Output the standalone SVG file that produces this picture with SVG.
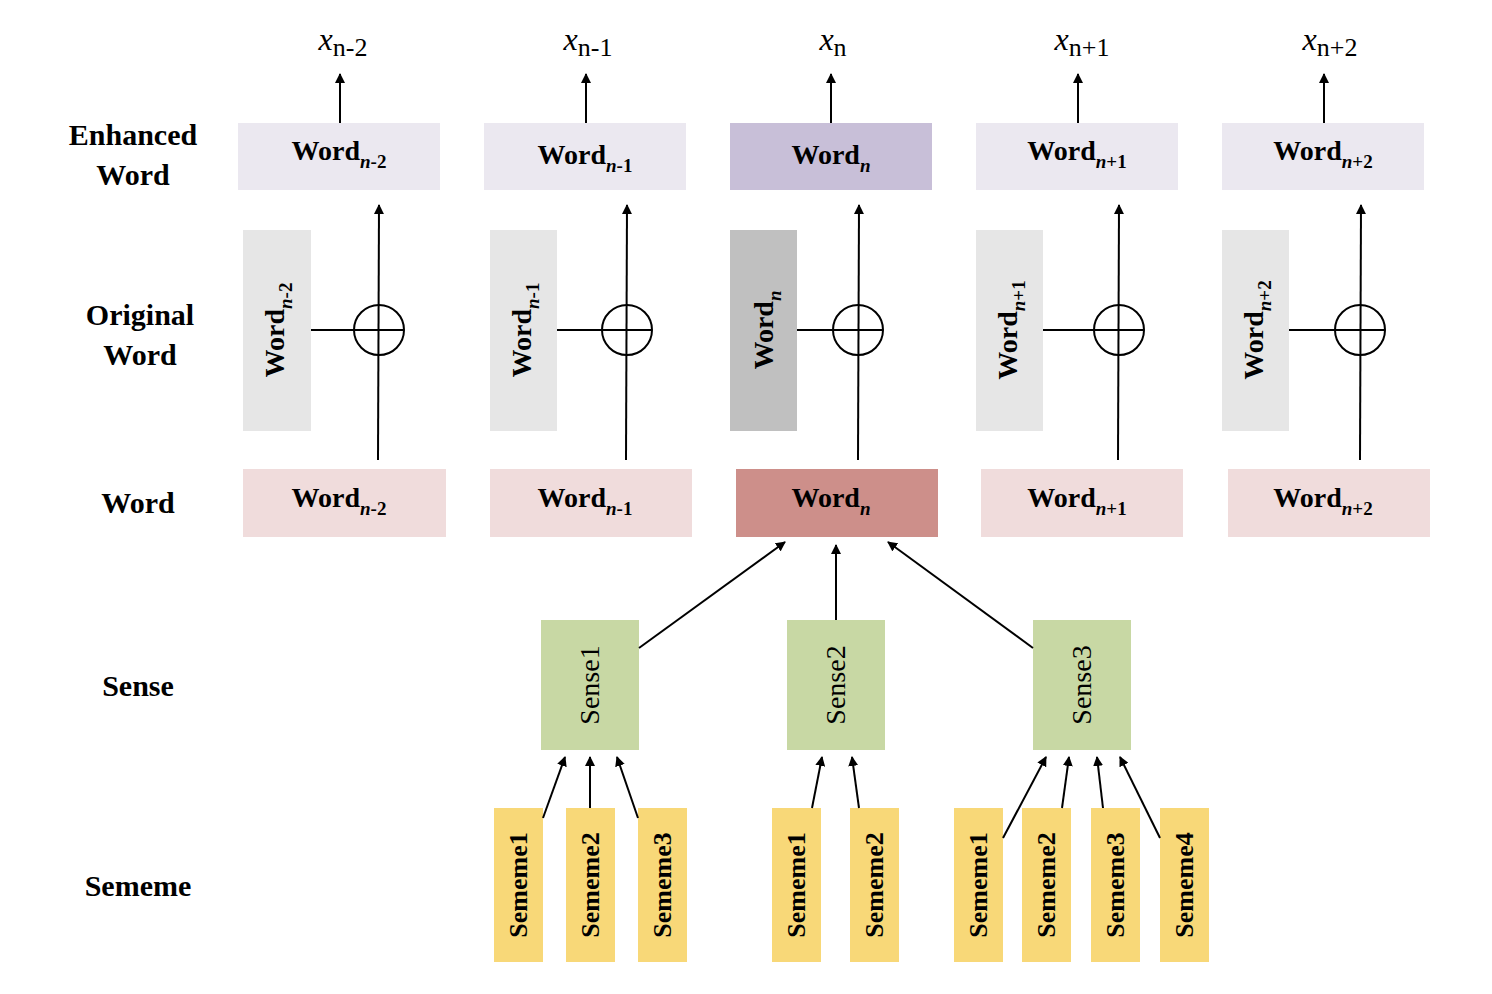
<svg xmlns="http://www.w3.org/2000/svg" width="1492" height="994" viewBox="0 0 1492 994">
<defs>
<marker id="ah" markerWidth="10" markerHeight="10" refX="9" refY="5" orient="auto" markerUnits="userSpaceOnUse" viewBox="0 0 10 10"><path d="M0,0 L10,5 L0,10 z" fill="#000"/></marker>
<style>
text{font-family:"Liberation Serif","Times New Roman",serif;fill:#000}
.lab{font-size:30px;font-weight:bold;text-anchor:middle}
.bt{font-size:28px;font-weight:bold;text-anchor:middle}
.sub{font-size:19px;font-style:italic}
.x{font-size:32px;text-anchor:middle}
.xs{font-size:26px;font-style:normal}
.st{font-size:28px;text-anchor:middle}
.sm{font-size:26px;font-weight:bold;text-anchor:middle}
line,path.c{stroke:#000;stroke-width:2;fill:none}
.ar{marker-end:url(#ah)}
.enh{fill:#ebe8f0}.org{fill:#e6e6e6}.wd{fill:#f0dcdc}.sen{fill:#c8d8a4}.sem{fill:#f8d878}
</style>
</defs>
<rect width="1492" height="994" fill="#fff"/>
<g id="labels">
<text class="lab" x="133" y="145">Enhanced</text><text class="lab" x="133" y="185">Word</text>
<text class="lab" x="140" y="325">Original</text><text class="lab" x="140" y="365">Word</text>
<text class="lab" x="138" y="513">Word</text>
<text class="lab" x="138" y="696">Sense</text>
<text class="lab" x="138" y="896">Sememe</text>
</g>
<g id="outputs">
<text class="x" x="343" y="50"><tspan font-style="italic">x</tspan><tspan class="xs" font-style="italic" dy="6">n</tspan><tspan class="xs" font-style="normal">-2</tspan></text>
<text class="x" x="588" y="50"><tspan font-style="italic">x</tspan><tspan class="xs" font-style="italic" dy="6">n</tspan><tspan class="xs">-1</tspan></text>
<text class="x" x="833" y="50"><tspan font-style="italic">x</tspan><tspan class="xs" font-style="italic" dy="6">n</tspan></text>
<text class="x" x="1082" y="50"><tspan font-style="italic">x</tspan><tspan class="xs" font-style="italic" dy="6">n</tspan><tspan class="xs">+1</tspan></text>
<text class="x" x="1330" y="50"><tspan font-style="italic">x</tspan><tspan class="xs" font-style="italic" dy="6">n</tspan><tspan class="xs">+2</tspan></text>
</g>
<g id="enhanced">
<rect class="enh" x="238" y="123" width="202" height="67"/><text class="bt" x="339" y="160">Word<tspan class="sub" dy="8">n</tspan><tspan font-size="19" dy="0">-2</tspan></text>
<rect class="enh" x="484" y="123" width="202" height="67"/><text class="bt" x="585" y="164">Word<tspan class="sub" dy="8">n</tspan><tspan font-size="19">-1</tspan></text>
<rect fill="#c8bfd8" x="730" y="123" width="202" height="67"/><text class="bt" x="831" y="164">Word<tspan class="sub" dy="8">n</tspan></text>
<rect class="enh" x="976" y="123" width="202" height="67"/><text class="bt" x="1077" y="160">Word<tspan class="sub" dy="8">n</tspan><tspan font-size="19">+1</tspan></text>
<rect class="enh" x="1222" y="123" width="202" height="67"/><text class="bt" x="1323" y="160">Word<tspan class="sub" dy="8">n</tspan><tspan font-size="19">+2</tspan></text>
</g>
<g id="original">
<rect class="org" x="243" y="230" width="68" height="201"/><text class="bt" transform="translate(284,330) rotate(-90)">Word<tspan class="sub" dy="8">n</tspan><tspan font-size="19">-2</tspan></text>
<rect class="org" x="490" y="230" width="67" height="201"/><text class="bt" transform="translate(531,330) rotate(-90)">Word<tspan class="sub" dy="8">n</tspan><tspan font-size="19">-1</tspan></text>
<rect fill="#c0c0c0" x="730" y="230" width="67" height="201"/><text class="bt" transform="translate(773,330) rotate(-90)">Word<tspan class="sub" dy="8">n</tspan></text>
<rect class="org" x="976" y="230" width="67" height="201"/><text class="bt" transform="translate(1017,330) rotate(-90)">Word<tspan class="sub" dy="8">n</tspan><tspan font-size="19">+1</tspan></text>
<rect class="org" x="1222" y="230" width="67" height="201"/><text class="bt" transform="translate(1263,330) rotate(-90)">Word<tspan class="sub" dy="8">n</tspan><tspan font-size="19">+2</tspan></text>
</g>
<g id="words">
<rect class="wd" x="243" y="469" width="203" height="68"/><text class="bt" x="339" y="507">Word<tspan class="sub" dy="8">n</tspan><tspan font-size="19">-2</tspan></text>
<rect class="wd" x="490" y="469" width="202" height="68"/><text class="bt" x="585" y="507">Word<tspan class="sub" dy="8">n</tspan><tspan font-size="19">-1</tspan></text>
<rect fill="#cd8f8a" x="736" y="469" width="202" height="68"/><text class="bt" x="831" y="507">Word<tspan class="sub" dy="8">n</tspan></text>
<rect class="wd" x="981" y="469" width="202" height="68"/><text class="bt" x="1077" y="507">Word<tspan class="sub" dy="8">n</tspan><tspan font-size="19">+1</tspan></text>
<rect class="wd" x="1228" y="469" width="202" height="68"/><text class="bt" x="1323" y="507">Word<tspan class="sub" dy="8">n</tspan><tspan font-size="19">+2</tspan></text>
</g>
<g id="senses">
<rect class="sen" x="541" y="620" width="98" height="130"/><text class="st" transform="translate(599,685) rotate(-90)">Sense1</text>
<rect class="sen" x="787" y="620" width="98" height="130"/><text class="st" transform="translate(845,685) rotate(-90)">Sense2</text>
<rect class="sen" x="1033" y="620" width="98" height="130"/><text class="st" transform="translate(1091,685) rotate(-90)">Sense3</text>
</g>
<g id="sememes">
<rect class="sem" x="494" y="808" width="49" height="154"/><text class="sm" transform="translate(527,885) rotate(-90)">Sememe1</text>
<rect class="sem" x="566" y="808" width="49" height="154"/><text class="sm" transform="translate(599,885) rotate(-90)">Sememe2</text>
<rect class="sem" x="638" y="808" width="49" height="154"/><text class="sm" transform="translate(671,885) rotate(-90)">Sememe3</text>
<rect class="sem" x="772" y="808" width="49" height="154"/><text class="sm" transform="translate(805,885) rotate(-90)">Sememe1</text>
<rect class="sem" x="850" y="808" width="49" height="154"/><text class="sm" transform="translate(883,885) rotate(-90)">Sememe2</text>
<rect class="sem" x="954" y="808" width="49" height="154"/><text class="sm" transform="translate(987,885) rotate(-90)">Sememe1</text>
<rect class="sem" x="1022" y="808" width="49" height="154"/><text class="sm" transform="translate(1055,885) rotate(-90)">Sememe2</text>
<rect class="sem" x="1091" y="808" width="49" height="154"/><text class="sm" transform="translate(1124,885) rotate(-90)">Sememe3</text>
<rect class="sem" x="1160" y="808" width="49" height="154"/><text class="sm" transform="translate(1193,885) rotate(-90)">Sememe4</text>
</g>
<g id="connectors">
<line class="ar" x1="340" y1="123" x2="340" y2="74"/>
<line class="ar" x1="586" y1="123" x2="586" y2="74"/>
<line class="ar" x1="831" y1="123" x2="831" y2="74"/>
<line class="ar" x1="1078" y1="123" x2="1078" y2="74"/>
<line class="ar" x1="1324" y1="123" x2="1324" y2="74"/>
<line class="ar" x1="378" y1="460" x2="379" y2="205"/>
<line class="ar" x1="626" y1="460" x2="627" y2="205"/>
<line class="ar" x1="858" y1="460" x2="859" y2="205"/>
<line class="ar" x1="1118" y1="460" x2="1119" y2="205"/>
<line class="ar" x1="1360" y1="460" x2="1361" y2="205"/>
<g fill="none" stroke="#000" stroke-width="2">
<circle cx="379" cy="330" r="25"/><line x1="311" y1="330" x2="404" y2="330"/>
<circle cx="627" cy="330" r="25"/><line x1="557" y1="330" x2="652" y2="330"/>
<circle cx="858" cy="330" r="25"/><line x1="797" y1="330" x2="883" y2="330"/>
<circle cx="1119" cy="330" r="25"/><line x1="1043" y1="330" x2="1144" y2="330"/>
<circle cx="1360" cy="330" r="25"/><line x1="1289" y1="330" x2="1385" y2="330"/>
</g>
<line class="ar" x1="639" y1="648" x2="785" y2="542"/>
<line class="ar" x1="836" y1="620" x2="836" y2="545"/>
<line class="ar" x1="1033" y1="648" x2="888" y2="542"/>
<line class="ar" x1="543" y1="818" x2="565" y2="757"/>
<line class="ar" x1="590" y1="808" x2="590" y2="757"/>
<line class="ar" x1="638" y1="818" x2="617" y2="757"/>
<line class="ar" x1="812" y1="808" x2="822" y2="757"/>
<line class="ar" x1="859" y1="808" x2="852" y2="757"/>
<line class="ar" x1="1003" y1="838" x2="1046" y2="757"/>
<line class="ar" x1="1062" y1="808" x2="1069" y2="757"/>
<line class="ar" x1="1103" y1="808" x2="1097" y2="757"/>
<line class="ar" x1="1160" y1="838" x2="1120" y2="757"/>
</g>
</svg>
